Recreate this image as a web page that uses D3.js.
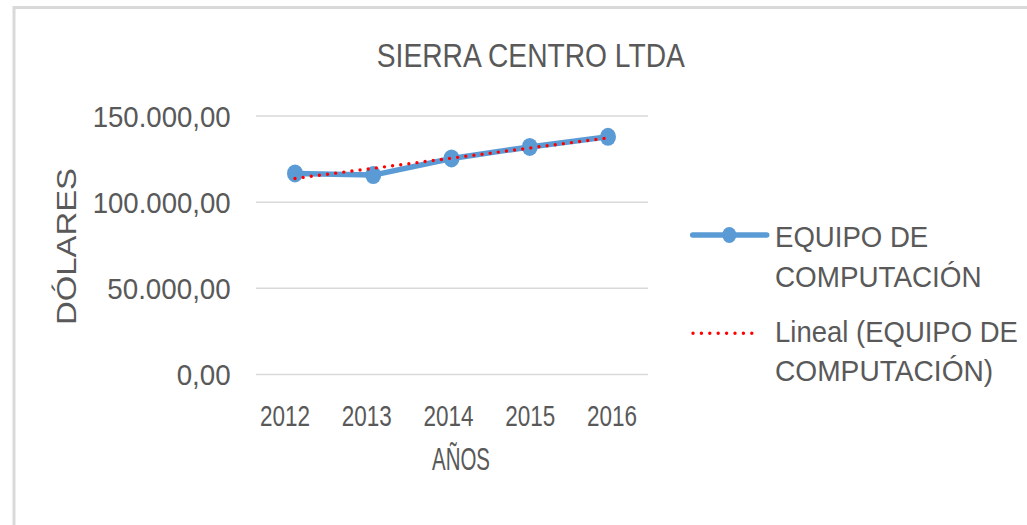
<!DOCTYPE html>
<html>
<head>
<meta charset="utf-8">
<script src="https://cdn.jsdelivr.net/npm/d3@7"></script>
<style>
  html, body { margin: 0; padding: 0; background: #fff; }
  svg { display: block; }
  text { font-family: "Liberation Sans", Arial, sans-serif; fill: #595959; }
</style>
</head>
<body>
<svg id="chart" width="1027" height="525"></svg>
<script>
// ---- data ----
const years = ["2012", "2013", "2014", "2015", "2016"];
const equipoValues = [116650, 115700, 125350, 132050, 137900];
const yTicks = [0, 50000, 100000, 150000];
const yTickLabels = ["0,00", "50.000,00", "100.000,00", "150.000,00"];
const titleText = "SIERRA CENTRO LTDA";
const xTitle = "AÑOS";
const yTitle = "DÓLARES";
const legendSeries = ["EQUIPO DE", "COMPUTACIÓN"];
const legendTrend = ["Lineal (EQUIPO DE", "COMPUTACIÓN)"];

const svg = d3.select("#chart");
const blue = "#5B9BD5";
const red = "#FF0000";

// chart border
svg.append("path")
  .attr("d", "M14,525 L14,7.5 L1027,7.5")
  .attr("fill", "none").attr("stroke", "#d9d9d9").attr("stroke-width", 3);

// scales
const x = d3.scalePoint().domain(years).range([295, 608]);
const xLab = d3.scalePoint().domain(years).range([285, 612]);
const y = d3.scaleLinear().domain([0, 150000]).range([374.4, 116]);

// gridlines
svg.append("g").selectAll("line").data(yTicks).join("line")
  .attr("x1", 256).attr("x2", 648)
  .attr("y1", d => y(d)).attr("y2", d => y(d))
  .attr("stroke", "#d9d9d9").attr("stroke-width", 1.5);

// y tick labels
const yLabelWidths = { "0,00": 54, "50.000,00": 123.4, "100.000,00": 138, "150.000,00": 138 };
svg.append("g").selectAll("text").data(yTicks).join("text")
  .attr("x", 230.7).attr("y", d => y(d) + 10.8)
  .attr("text-anchor", "end")
  .attr("font-size", 30)
  .attr("textLength", (d, i) => yLabelWidths[yTickLabels[i]])
  .attr("lengthAdjust", "spacingAndGlyphs")
  .text((d, i) => yTickLabels[i]);

// x tick labels
svg.append("g").selectAll("text").data(years).join("text")
  .attr("x", d => xLab(d)).attr("y", y(0) + 51.6)
  .attr("text-anchor", "middle")
  .attr("font-size", 29)
  .attr("textLength", 50)
  .attr("lengthAdjust", "spacingAndGlyphs")
  .text(d => d);

// title
svg.append("text")
  .attr("x", 530.8).attr("y", 67.3)
  .attr("text-anchor", "middle").attr("font-size", 33)
  .attr("textLength", 308).attr("lengthAdjust", "spacingAndGlyphs")
  .text(titleText);

// axis titles
svg.append("text")
  .attr("x", 461).attr("y", 470)
  .attr("text-anchor", "middle").attr("font-size", 31)
  .attr("textLength", 58).attr("lengthAdjust", "spacingAndGlyphs")
  .text(xTitle);

svg.append("text")
  .attr("transform", "translate(76,246.5) rotate(-90)")
  .attr("text-anchor", "middle").attr("font-size", 27)
  .attr("textLength", 157).attr("lengthAdjust", "spacingAndGlyphs")
  .text(yTitle);

// series line
const pts = years.map((yr, i) => [yr, equipoValues[i]]);
const line = d3.line().x(d => x(d[0])).y(d => y(d[1]));
svg.append("path").datum(pts)
  .attr("d", line)
  .attr("fill", "none").attr("stroke", blue).attr("stroke-width", 5.5)
  .attr("stroke-linejoin", "round");

svg.append("g").selectAll("ellipse").data(pts).join("ellipse")
  .attr("cx", d => x(d[0])).attr("cy", d => y(d[1]))
  .attr("rx", 8).attr("ry", 9).attr("fill", blue);

// linear trendline (least squares on the series)
const n = equipoValues.length;
const idx = d3.range(n);
const mx = d3.mean(idx), my = d3.mean(equipoValues);
const slope = d3.sum(idx, i => (i - mx) * (equipoValues[i] - my)) / d3.sum(idx, i => (i - mx) ** 2);
const icpt = my - slope * mx;
const trend = [[years[0], icpt], [years[n - 1], icpt + slope * (n - 1)]];
svg.append("path").datum(trend)
  .attr("d", line)
  .attr("fill", "none").attr("stroke", red).attr("stroke-width", 3.4)
  .attr("stroke-linecap", "round").attr("stroke-dasharray", "0 8.2");

// legend
const lg = svg.append("g");
lg.append("line").attr("x1", 692.7).attr("x2", 766.7).attr("y1", 235).attr("y2", 235)
  .attr("stroke", blue).attr("stroke-width", 5.5).attr("stroke-linecap", "round");
lg.append("ellipse").attr("cx", 729.3).attr("cy", 235).attr("rx", 7).attr("ry", 8).attr("fill", blue);
lg.append("line").attr("x1", 693).attr("x2", 760).attr("y1", 333.3).attr("y2", 333.3)
  .attr("stroke", red).attr("stroke-width", 3.4).attr("stroke-linecap", "round")
  .attr("stroke-dasharray", "0 8.4");

const legendWidths = [153.3, 206.7, 243, 218.3];
const legendLines = legendSeries.concat(legendTrend);
const legendBase = [247.3, 286.7, 341.7, 380.7];
lg.selectAll("text.lt").data(legendLines).join("text")
  .attr("class", "lt")
  .attr("x", 0).attr("y", 0)
  .attr("font-size", 29)
  .text(d => d)
  .attr("transform", function (d, i) {
    const w = this.getComputedTextLength();
    const k = legendWidths[i] / w;
    return `translate(775,${legendBase[i]}) scale(${k},1)`;
  });
</script>
</body>
</html>
